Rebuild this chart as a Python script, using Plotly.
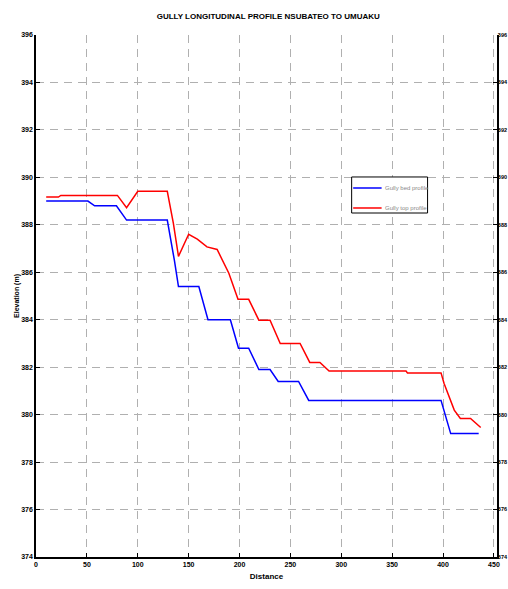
import plotly.graph_objects as go

# Gully bed profile (blue)
bed_distance = [10, 51, 57.6, 79, 89, 129, 136, 140, 160, 169, 191, 199, 209, 219, 230, 238, 258, 268, 398, 407.5, 435]
bed_elevation = [389.0, 389.0, 388.8, 388.8, 388.2, 388.2, 386.5, 385.4, 385.4, 384.0, 384.0, 382.8, 382.8, 381.9, 381.9, 381.4, 381.4, 380.6, 380.6, 379.2, 379.2]

# Gully top profile (red)
top_distance = [10, 22, 24.4, 80, 89, 100, 129, 135, 140, 150, 158.5, 168, 178, 189.5, 198.5, 209, 219, 230, 240, 259.5, 269, 279, 288, 363.6, 365, 398, 401, 411, 417, 427, 437]
top_elevation = [389.17, 389.17, 389.24, 389.24, 388.72, 389.41, 389.41, 388.06, 386.67, 387.6, 387.4, 387.07, 386.96, 385.96, 384.86, 384.86, 383.98, 383.98, 383.0, 383.0, 382.2, 382.2, 381.84, 381.84, 381.76, 381.76, 381.31, 380.19, 379.84, 379.84, 379.46]

x_ticks = [0, 50, 100, 150, 200, 250, 300, 350, 400, 450]
y_ticks = [374, 376, 378, 380, 382, 384, 386, 388, 390, 392, 394, 396]

title_text = "GULLY LONGITUDINAL PROFILE NSUBATEO TO UMUAKU"
x_title = "Distance"
y_title = "Elevation (m)"
names = ["Gully bed profile", "Gully top profile"]
colors = ["#0000ff", "#ff0000"]

FONT = "Liberation Sans, Arial, sans-serif"

fig = go.Figure()
fig.add_trace(go.Scatter(x=bed_distance, y=bed_elevation, mode="lines", name=names[0],
                         line=dict(color=colors[0], width=1.5)))
fig.add_trace(go.Scatter(x=top_distance, y=top_elevation, mode="lines", name=names[1],
                         line=dict(color=colors[1], width=1.5)))
# invisible trace to carry the mirrored right-hand axis
fig.add_trace(go.Scatter(x=top_distance[:1], y=top_elevation[:1], yaxis="y2", mode="lines",
                         showlegend=False, hoverinfo="skip", line=dict(width=0), opacity=0))

grid = dict(showgrid=True, gridcolor="#b0b0b0", gridwidth=1, griddash="8px,6px")
tickfont = dict(family=FONT, size=7, color="black", weight="bold")

fig.update_layout(
    width=508, height=589,
    margin=dict(l=36, r=11, t=35, b=32),
    paper_bgcolor="white", plot_bgcolor="white",
    showlegend=False,
    title=dict(text=title_text, x=0.528, xanchor="center", y=0.972, yanchor="middle",
               font=dict(family=FONT, size=8, color="black", weight="bold")),
    xaxis=dict(range=[0, 453], tickvals=x_ticks, ticktext=[str(v) for v in x_ticks],
               showline=True, linecolor="black", linewidth=1.5, mirror=False,
               ticks="inside", ticklen=4, tickcolor="black", tickfont=tickfont,
               zeroline=False, automargin=False,
               title=dict(text=x_title, font=dict(family=FONT, size=8, color="black", weight="bold"),
                          standoff=6), **grid),
    yaxis=dict(range=[374, 396], tickvals=y_ticks, ticktext=[str(v) for v in y_ticks],
               showline=True, linecolor="black", linewidth=1.5,
               ticks="inside", ticklen=4, tickcolor="black", tickfont=tickfont,
               zeroline=False, automargin=False,
               title=dict(text=y_title, font=dict(family=FONT, size=7, color="black", weight="bold"),
                          standoff=0), **grid),
    yaxis2=dict(range=[374, 396], tickvals=y_ticks, ticktext=[str(v) for v in y_ticks],
                overlaying="y", side="right", showline=True, linecolor="black", linewidth=1.5,
                ticks="inside", ticklen=4, tickcolor="black",
                tickfont=dict(family=FONT, size=5.5, color="black", weight="bold"),
                ticklabelstandoff=-2,
                showgrid=False, zeroline=False, automargin=False),
)

# Legend drawn as a boxed key (paper coordinates)
box_x0, box_x1, box_y0, box_y1 = 0.6847, 0.8494, 0.659, 0.728
fig.add_shape(type="rect", xref="paper", yref="paper", x0=box_x0, x1=box_x1, y0=box_y0, y1=box_y1,
              line=dict(color="black", width=1), fillcolor="white", layer="above")
entry_y = [0.7069, 0.6686]
for name, color, yy in zip(names, colors, entry_y):
    fig.add_shape(type="line", xref="paper", yref="paper", x0=0.6880, x1=0.7497, y0=yy, y1=yy,
                  line=dict(color=color, width=1.5), layer="above")
    fig.add_annotation(xref="paper", yref="paper", x=0.7530, y=yy, text=name, showarrow=False,
                       xanchor="left", yanchor="middle",
                       font=dict(family=FONT, size=6, color="#888888"))

fig.write_html("out.html")
